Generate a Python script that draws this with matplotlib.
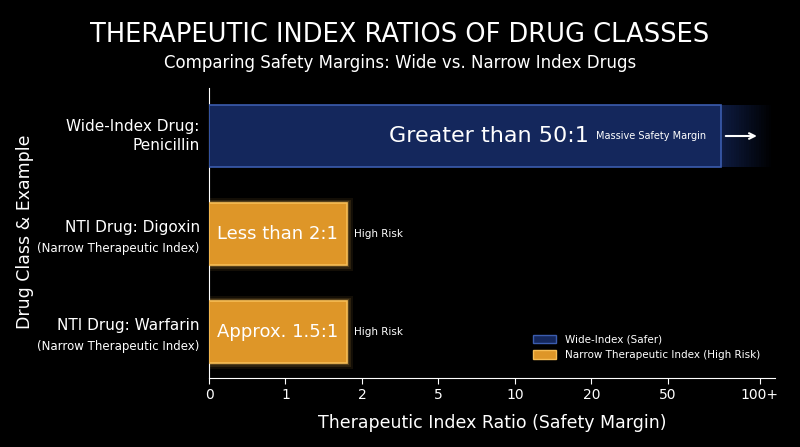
import matplotlib
matplotlib.use("Agg")
import matplotlib.pyplot as plt
import numpy as np
from matplotlib.patches import Patch

categories = ["Wide-Index Drug:\nPenicillin", "NTI Drug: Digoxin", "NTI Drug: Warfarin"]
subnotes = ["", "(Narrow Therapeutic Index)", "(Narrow Therapeutic Index)"]
bar_pos = [6.7, 1.8, 1.8]   # position on the index-ratio scale
bar_labels = ["Greater than 50:1", "Less than 2:1", "Approx. 1.5:1"]
side_notes = ["Massive Safety Margin", "High Risk", "High Risk"]
tick_labels = ["0", "1", "2", "5", "10", "20", "50", "100+"]
tick_pos = [0, 1, 2, 3, 4, 5, 6, 7.2]

fig = plt.figure(figsize=(8, 4.47), dpi=100, facecolor="black")
ax = fig.add_axes([209/800, 1-378/447, 566/800, 290/447], facecolor="black")
ax.set_xlim(0, 7.4)
ax.set_ylim(-0.47, 2.49)
ys = [2, 1, 0]
h = 0.64
blue_f, blue_e = "#14275c", "#3b5cae"
or_f, or_e = "#de9628", "#f7bd55"
for i, (y, w) in enumerate(zip(ys, bar_pos)):
    if i == 0:
        ax.barh(y, w, height=h, color=blue_f, edgecolor=blue_e, lw=1.2, zorder=3)
        n = 20
        xs = np.linspace(w, 7.35, n+1)
        for k in range(n):
            ax.barh(y, xs[k+1]-xs[k], left=xs[k], height=h, color=blue_f,
                    alpha=0.7*(1-k/n), lw=0, zorder=2)
        ax.annotate("", xy=(7.2, y), xytext=(6.72, y),
                    arrowprops=dict(arrowstyle="->", color="white", lw=1.5), zorder=5)
        ax.text(3.66, y, bar_labels[i], color="white", fontsize=16, ha="center", va="center", zorder=4)
        ax.text(5.06, y, side_notes[i], color="white", fontsize=7, ha="left", va="center", zorder=4)
    else:
        for lw, a in [(8, 0.08), (5, 0.12), (3, 0.2)]:
            ax.barh(y, w, height=h, color="none", edgecolor=or_e, lw=lw, alpha=a, zorder=2)
        ax.barh(y, w, height=h, color=or_f, edgecolor=or_e, lw=1.2, zorder=3)
        ax.text(w/2, y, bar_labels[i], color="white", fontsize=13, ha="center", va="center", zorder=4)
        ax.text(w+0.09, y, side_notes[i], color="white", fontsize=7.5, ha="left", va="center", zorder=4)

ax.set_yticks(ys)
ax.set_yticklabels([])
for y, c, s in zip(ys, categories, subnotes):
    if s:
        ax.text(-0.12, y+0.07, c, color="white", fontsize=11, ha="right", va="center")
        ax.text(-0.12, y-0.15, s, color="white", fontsize=8.5, ha="right", va="center")
    else:
        ax.text(-0.12, y, c, color="white", fontsize=11, ha="right", va="center", linespacing=1.4)
ax.set_xticks(tick_pos)
ax.set_xticklabels(tick_labels, color="white", fontsize=10)
ax.tick_params(axis="x", colors="white", length=4)
ax.tick_params(axis="y", length=0)
for s in ["top", "right"]:
    ax.spines[s].set_visible(False)
for s in ["left", "bottom"]:
    ax.spines[s].set_color("white")
ax.set_xlabel("Therapeutic Index Ratio (Safety Margin)", color="white", fontsize=12.5, labelpad=8)
fig.text(25/800, 1-232/447, "Drug Class & Example", color="white", fontsize=12.5, rotation=90, ha="center", va="center")
fig.text(0.5, 1-35/447, "THERAPEUTIC INDEX RATIOS OF DRUG CLASSES", color="white", fontsize=18.5, ha="center", va="center")
fig.text(0.5, 1-63/447, "Comparing Safety Margins: Wide vs. Narrow Index Drugs", color="white", fontsize=12, ha="center", va="center")

ax.legend(handles=[Patch(facecolor=blue_f, edgecolor=blue_e, label="Wide-Index (Safer)"),
                   Patch(facecolor=or_f, edgecolor=or_e, label="Narrow Therapeutic Index (High Risk)")],
          loc="lower right", bbox_to_anchor=(0.99, 0.03), frameon=True, fontsize=7.5,
          facecolor="black", edgecolor="black", labelcolor="white", handlelength=2.2, handleheight=0.9)
fig.savefig("out.png", dpi=100, facecolor="black")
